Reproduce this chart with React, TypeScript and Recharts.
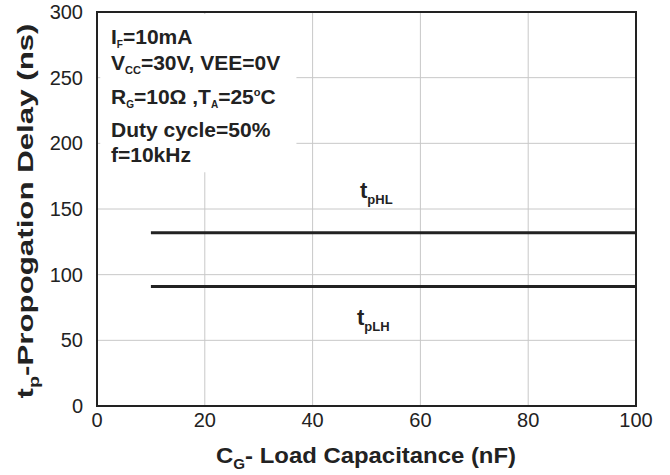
import React from "react";
import {
  LineChart,
  Line,
  XAxis,
  YAxis,
  CartesianGrid,
  ReferenceArea,
} from "recharts";

// ============================================================================
// Data
// ============================================================================

const loadCapacitance = [10, 100];
const tpHL = [132, 132];
const tpLH = [91, 91];

const xTicks = [0, 20, 40, 60, 80, 100];
const yTicks = [0, 50, 100, 150, 200, 250, 300];

const data = loadCapacitance.map((c, i) => ({
  c,
  tpHL: tpHL[i],
  tpLH: tpLH[i],
}));

const FONT = '"Liberation Sans", Arial, Helvetica, sans-serif';
const INK = "#222";

// a run of text; shift > 0 lowers it (subscript), < 0 raises it (superscript)
type Run = { t: string; shift?: number; size?: number };

function Rich({ runs }: { runs: Run[] }) {
  let prev = 0;
  return (
    <>
      {runs.map((r, i) => {
        const s = r.shift ?? 0;
        const dy = s - prev;
        prev = s;
        return (
          <tspan key={i} dy={dy || undefined} fontSize={r.size}>
            {r.t}
          </tspan>
        );
      })}
    </>
  );
}

function Annotations() {
  return (
    <svg
      width={670}
      height={475}
      style={{ position: "absolute", left: 0, top: 0, pointerEvents: "none" }}
    >
      <g fontFamily={FONT} fontWeight="bold" fill={INK} fontSize={21}>
        <text x={111} y={44}>
          <Rich runs={[{ t: "I" }, { t: "F", shift: 4, size: 10 }, { t: "=10mA" }]} />
        </text>
        <text x={111} y={70}>
          <Rich runs={[{ t: "V" }, { t: "CC", shift: 4, size: 11 }, { t: "=30V, VEE=0V" }]} />
        </text>
        <text x={111} y={104}>
          <Rich
            runs={[
              { t: "R" },
              { t: "G", shift: 4, size: 10 },
              { t: "=10Ω ,T" },
              { t: "A", shift: 4, size: 10 },
              { t: "=25" },
              { t: "o", shift: -8, size: 11 },
              { t: "C" },
            ]}
          />
        </text>
        <text x={111} y={137}>
          Duty cycle=50%
        </text>
        <text x={111} y={162}>
          f=10kHz
        </text>

        <text x={360} y={198} fontSize={22}>
          <Rich runs={[{ t: "t" }, { t: "pHL", shift: 6, size: 13 }]} />
        </text>
        <text x={357} y={325} fontSize={22}>
          <Rich runs={[{ t: "t" }, { t: "pLH", shift: 6, size: 13 }]} />
        </text>
      </g>

      <g fontFamily={FONT} fontWeight="bold" fill={INK} fontSize={22}>
        <text
          x={366}
          y={463}
          textAnchor="middle"
          textLength={300}
          lengthAdjust="spacingAndGlyphs"
        >
          <Rich runs={[{ t: "C" }, { t: "G", shift: 6, size: 14 }, { t: "- Load Capacitance (nF)" }]} />
        </text>
        <text
          x={0}
          y={0}
          textAnchor="middle"
          textLength={375}
          lengthAdjust="spacingAndGlyphs"
          transform="translate(33,211) rotate(-90)"
        >
          <Rich runs={[{ t: "t" }, { t: "p", shift: 6, size: 14 }, { t: "-Propogation Delay (ns)" }]} />
        </text>
      </g>
    </svg>
  );
}

export default function App() {
  return (
    <div style={{ position: "absolute", left: 0, top: 0, width: 670, height: 475, background: "#fff" }}>
      <LineChart
        width={670}
        height={475}
        data={data}
        margin={{ top: 12, right: 34, bottom: 0, left: 0 }}
      >
        <CartesianGrid stroke="#c8c8c8" strokeWidth={1} />
        <XAxis
          dataKey="c"
          type="number"
          domain={[0, 100]}
          ticks={xTicks}
          height={69}
          axisLine={false}
          tickLine={false}
          tickSize={0}
          tickMargin={7}
          tick={{ fontSize: 20, fill: INK, fontFamily: FONT }}
        />
        <YAxis
          type="number"
          domain={[0, 300]}
          ticks={yTicks}
          width={97}
          axisLine={false}
          tickLine={false}
          tickSize={0}
          tickMargin={14}
          tick={{ fontSize: 20, fill: INK, fontFamily: FONT }}
        />
        {/* white backing behind the test conditions */}
        <ReferenceArea x1={0.6} x2={37} y1={178} y2={298.5} fill="#fff" fillOpacity={1} stroke="none" />
        {/* plot frame */}
        <ReferenceArea x1={0} x2={100} y1={0} y2={300} fill="none" stroke={INK} strokeWidth={2} />
        <Line
          type="linear"
          dataKey="tpHL"
          stroke={INK}
          strokeWidth={3}
          dot={false}
          isAnimationActive={false}
        />
        <Line
          type="linear"
          dataKey="tpLH"
          stroke={INK}
          strokeWidth={3}
          dot={false}
          isAnimationActive={false}
        />
      </LineChart>
      <Annotations />
    </div>
  );
}
